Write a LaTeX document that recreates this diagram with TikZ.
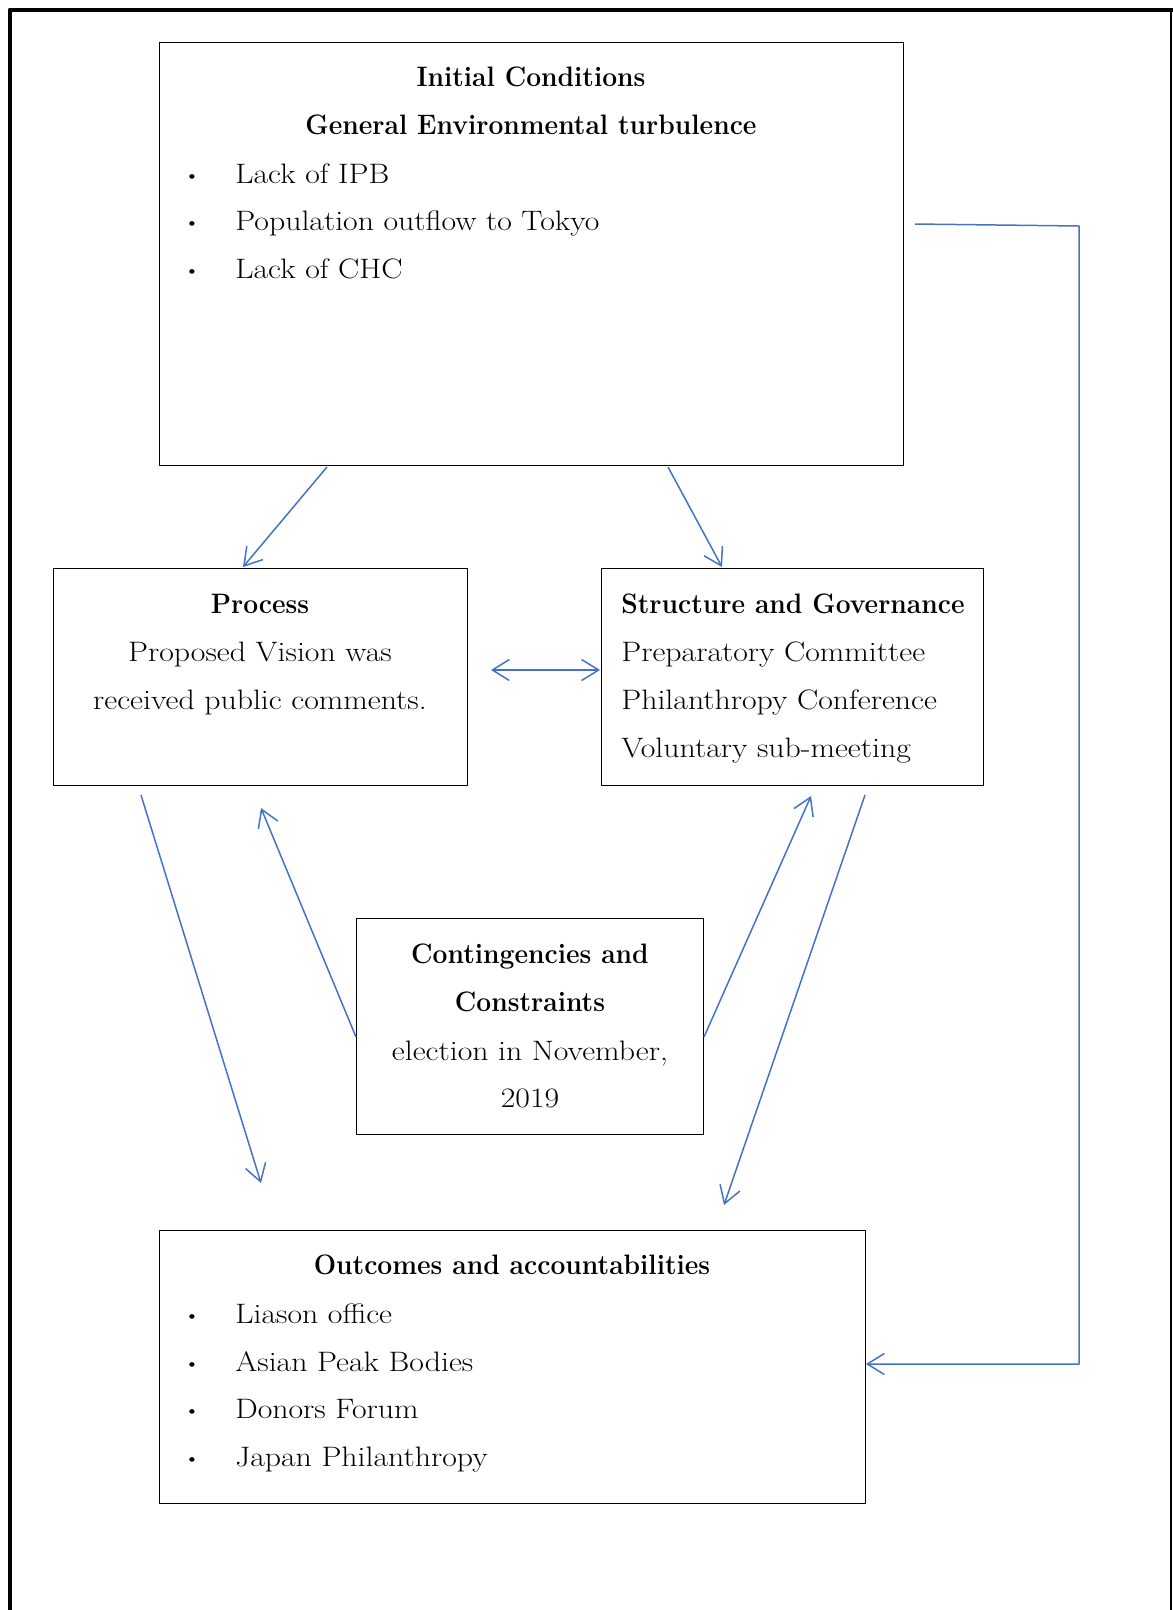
\documentclass[tikz,border=0pt]{standalone}
\usepackage{fontspec}
\setmainfont{Latin Modern Roman}[FakeStretch=1.13]
\newfontfamily\headfont{Latin Modern Roman}[FakeStretch=0.94]
\usetikzlibrary{arrows.meta,calc}
\definecolor{arrblue}{RGB}{68,114,196}
\newcommand{\mainsize}{\fontsize{16}{27}\selectfont}
\tikzset{
	box/.style={draw,line width=0.6pt,anchor=north west,inner sep=0pt},
	txt/.style={inner sep=0pt,anchor=mid},
	ltxt/.style={inner sep=0pt,anchor=mid west},
	dotm/.style={inner sep=0pt,anchor=center},
	head/.style={txt,font=\mainsize\headfont\bfseries},
	lhead/.style={ltxt,font=\mainsize\headfont\bfseries},
	arr/.style={draw=arrblue,line width=0.85pt,-{Straight Barb[length=3.4mm,width=4.2mm]}},
}
\newcommand{\dotmark}{{\fontsize{9}{9}\selectfont\textbullet}}
\begin{document}
\begin{tikzpicture}[x=0.02cm,y=-0.02cm,line join=round,font=\mainsize]
	\useasboundingbox (0,0) rectangle (1173,1610);
	% frame
	\draw[line width=2.8pt,line cap=rect] (10,1615)--(10,10)--(1171,10);
	\draw[line width=1.2pt] (1171,10)--(1171,1615);
	% boxes
	\node[box,minimum width=14.88cm,minimum height=8.46cm] (init) at (159,42) {};
	\node[box,minimum width=8.28cm,minimum height=4.34cm] (proc) at (53,568) {};
	\node[box,minimum width=7.64cm,minimum height=4.34cm] (struct) at (601,568) {};
	\node[box,minimum width=6.94cm,minimum height=4.32cm] (cont) at (356,918) {};
	\node[box,minimum width=14.12cm,minimum height=5.46cm] (out) at (159,1230) {};
	% initial conditions
	\path (531,83)node[head](initA){Initial Conditions}
	++(0,48)node[head](initB){General Environmental turbulence};
	\path (192,178)node[dotm](b1){\dotmark}+(43,2)node[ltxt](i1){Lack of IPB}
	++(0,47)node[dotm](b2){\dotmark}+(43,2)node[ltxt](i2){Population outflow to Tokyo}
	++(0,48)node[dotm](b3){\dotmark}+(43,2)node[ltxt](i3){Lack of CHC};
	% process
	\path (260,610)node[head](procA){Process}
	++(0,48)node[txt](procB){Proposed Vision was}
	++(0,48)node[txt](procC){received public comments.};
	% structure
	\path (621,610)node[lhead](strA){Structure and Governance}
	++(0,48)node[ltxt](strB){Preparatory Committee}
	++(0,48)node[ltxt](strC){Philanthropy Conference}
	++(0,48)node[ltxt](strD){Voluntary sub-meeting};
	% contingencies
	\path (530,960)node[head](contA){Contingencies and}
	++(0,48)node[head](contB){Constraints}
	++(0,49)node[txt](contC){election in November,}
	++(0,47)node[txt](contD){2019};
	% outcomes
	\path (512,1271)node[head](outA){Outcomes and accountabilities};
	\path (192,1318)node[dotm](o1){\dotmark}+(43,2)node[ltxt](oa){Liason office}
	++(0,48)node[dotm](o2){\dotmark}+(43,2)node[ltxt](ob){Asian Peak Bodies}
	++(0,47)node[dotm](o3){\dotmark}+(43,2)node[ltxt](oc){Donors Forum}
	++(0,48)node[dotm](o4){\dotmark}+(43,2)node[ltxt](od){Japan Philanthropy};
	% connectors
	\draw[arr] ($(init.south west)+(168,1)$)--($(proc.north west)+(190,-1)$);
	\draw[arr] ($(init.south west)+(509,1)$)--($(struct.north west)+(121,-1)$);
	\draw[arr,{Straight Barb[length=3.4mm,width=4.2mm]}-{Straight Barb[length=3.4mm,width=4.2mm]}] ($(proc.north east)+(23,102)$)--($(struct.north west)+(-1,102)$);
	\draw[arr] ($(proc.south west)+(88,9)$)--($(out.north west)+(102,-47)$);
	\draw[arr] ($(cont.north west)+(0,119)$)--($(proc.south west)+(208,22)$);
	\draw[arr] ($(cont.north east)+(0,119)$)--($(struct.south west)+(210,10)$);
	\draw[arr] ($(struct.south west)+(264,9)$)--($(out.north west)+(565,-25)$);
	\coordinate (r1) at (915,224);
	\coordinate (r2) at (1079,226);
	\coordinate (r3) at (1079,1364);
	\draw[arr] (r1)--(r2)--(r3)--(r3-|out.east);
\end{tikzpicture}
\end{document}
